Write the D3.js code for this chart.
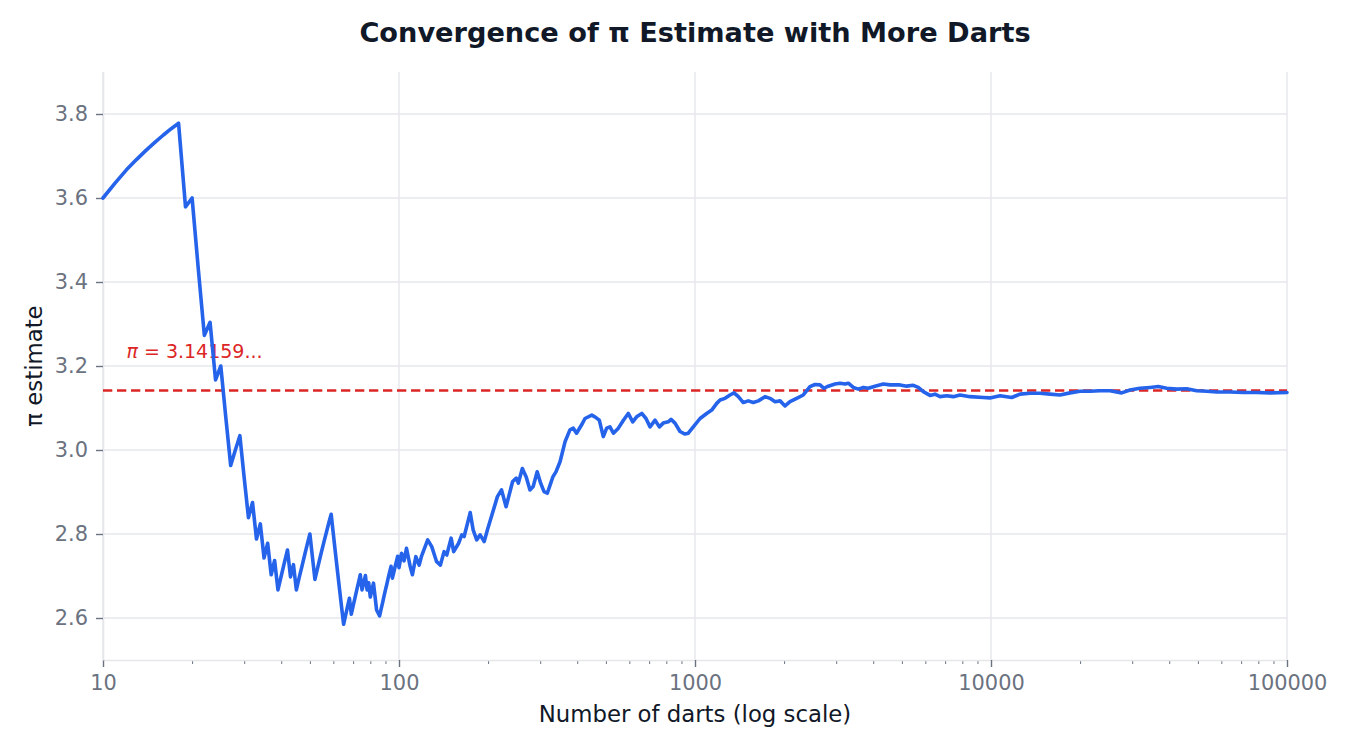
<!DOCTYPE html>
<html>
<head>
<meta charset="utf-8">
<script src="https://cdn.jsdelivr.net/npm/d3@7"></script>
<style>
  body { margin: 0; background: #fff; }
  svg { display: block; font-family: "DejaVu Sans", sans-serif; }
</style>
</head>
<body>
<div id="chart"></div>
<script>
// running estimate of pi after n darts
const darts = [
  10, 11, 12, 13, 14, 15, 16, 17, 18, 19, 20, 21, 22, 23, 24, 25, 26, 27, 28, 29,
  30, 31, 32, 33, 34, 35, 36, 37, 38, 39, 40, 41, 42, 43, 44, 45, 46, 47, 48, 49,
  50, 51, 52, 53, 54, 55, 56, 57, 58, 59, 60, 61, 62, 63, 64, 65, 66, 67, 68, 69,
  70, 71, 72, 73, 74, 75, 76, 77, 78, 79, 80, 81, 82, 83, 84, 85, 86, 87, 88, 89,
  90, 91, 92, 93, 94, 95, 96, 97, 98, 99, 100, 102, 104, 106, 109, 111, 114, 117, 119, 125,
  129, 134, 138, 142, 145, 150, 153, 159, 163, 166, 174, 178, 183, 188, 194, 199, 206, 215, 222, 230,
  242, 249, 253, 261, 269, 277, 284, 293, 301, 309, 317, 331, 339, 350, 364, 378, 388, 398, 414, 425,
  448, 459, 475, 490, 503, 516, 530, 551, 573, 595, 616, 635, 661, 683, 705, 733, 758, 781, 812, 830,
  856, 890, 925, 949, 987, 1040, 1095, 1139, 1184, 1215, 1263, 1313, 1355, 1401, 1456, 1514, 1574, 1637, 1724, 1792,
  1864, 1938, 2015, 2094, 2206, 2322, 2446, 2543, 2644, 2728, 2820, 2972, 3090, 3212, 3296, 3427, 3563, 3704, 3851, 4056,
  4327, 4560, 4927, 5190, 5463, 5680, 5906, 6222, 6469, 6726, 7086, 7457, 7857, 8495, 9419, 9922, 10725, 11746, 12531, 13546,
  14640, 15825, 17105, 18490, 19984, 21603, 23346, 25235, 27640, 29487, 31874, 34445, 36744, 39223, 42409, 45824, 49535, 53554, 57876, 64183,
  71187, 78978, 87614, 100000
];
const piEstimate = [
  3.600, 3.636, 3.667, 3.692, 3.714, 3.733, 3.750, 3.765, 3.778, 3.579, 3.600, 3.429, 3.273, 3.304, 3.167, 3.200, 3.077, 2.963, 3.000, 3.034,
  2.933, 2.839, 2.875, 2.788, 2.824, 2.743, 2.778, 2.703, 2.737, 2.667, 2.700, 2.732, 2.762, 2.698, 2.727, 2.667, 2.696, 2.723, 2.750, 2.776,
  2.800, 2.745, 2.692, 2.717, 2.741, 2.764, 2.786, 2.807, 2.828, 2.847, 2.800, 2.754, 2.710, 2.667, 2.625, 2.585, 2.606, 2.627, 2.647, 2.609,
  2.629, 2.648, 2.667, 2.685, 2.703, 2.667, 2.684, 2.701, 2.667, 2.684, 2.650, 2.667, 2.683, 2.651, 2.619, 2.612, 2.605, 2.621, 2.636, 2.652,
  2.667, 2.681, 2.696, 2.710, 2.723, 2.695, 2.708, 2.722, 2.735, 2.747, 2.720, 2.754, 2.736, 2.766, 2.724, 2.703, 2.746, 2.726, 2.746, 2.786,
  2.770, 2.734, 2.726, 2.758, 2.750, 2.790, 2.758, 2.778, 2.798, 2.794, 2.851, 2.810, 2.786, 2.798, 2.782, 2.810, 2.845, 2.889, 2.905, 2.865,
  2.925, 2.933, 2.921, 2.956, 2.936, 2.905, 2.913, 2.948, 2.921, 2.901, 2.897, 2.936, 2.948, 2.972, 3.020, 3.048, 3.052, 3.040, 3.060, 3.075,
  3.083, 3.079, 3.071, 3.032, 3.052, 3.055, 3.040, 3.052, 3.071, 3.087, 3.067, 3.079, 3.087, 3.075, 3.055, 3.071, 3.055, 3.064, 3.067, 3.073,
  3.064, 3.044, 3.038, 3.040, 3.055, 3.075, 3.087, 3.095, 3.111, 3.119, 3.123, 3.131, 3.136, 3.127, 3.113, 3.117, 3.113, 3.117, 3.127, 3.123,
  3.115, 3.117, 3.105, 3.115, 3.123, 3.131, 3.151, 3.156, 3.155, 3.147, 3.152, 3.157, 3.159, 3.157, 3.159, 3.149, 3.145, 3.149, 3.147, 3.152,
  3.157, 3.155, 3.155, 3.152, 3.154, 3.149, 3.139, 3.130, 3.133, 3.127, 3.129, 3.127, 3.131, 3.127, 3.125, 3.124, 3.129, 3.125, 3.133, 3.135,
  3.135, 3.133, 3.131, 3.136, 3.140, 3.140, 3.141, 3.141, 3.136, 3.143, 3.147, 3.149, 3.151, 3.147, 3.145, 3.146, 3.141, 3.140, 3.138, 3.138,
  3.137, 3.137, 3.136, 3.137
];

const xTicks = [10, 100, 1000, 10000, 100000];
const yTicks = [2.6, 2.8, 3.0, 3.2, 3.4, 3.6, 3.8];
const piValue = Math.PI;
const piLabelAt = [12, 3.22];

const width = 1350;
const height = 750;
const margin = { top: 72, right: 63, bottom: 90, left: 103 };

const svg = d3.select("#chart").append("svg")
  .attr("width", width)
  .attr("height", height)
  .style("background", "white");

const x = d3.scaleLog()
  .domain([10, 100000])
  .range([margin.left, width - margin.right]);
const y = d3.scaleLinear()
  .domain([2.5, 3.9])
  .range([height - margin.bottom, margin.top]);

const gridColor = "#e5e7eb";
const tickColor = "#6b7280";

// grid
svg.append("g")
  .selectAll("line")
  .data(yTicks)
  .join("line")
  .attr("x1", margin.left)
  .attr("x2", width - margin.right)
  .attr("y1", d => y(d))
  .attr("y2", d => y(d))
  .attr("stroke", gridColor)
  .attr("stroke-width", 1.4);

svg.append("g")
  .selectAll("line")
  .data(xTicks)
  .join("line")
  .attr("x1", d => x(d))
  .attr("x2", d => x(d))
  .attr("y1", margin.top)
  .attr("y2", height - margin.bottom)
  .attr("stroke", gridColor)
  .attr("stroke-width", 1.4);

// axes
const minorTicks = x.ticks().filter(d => !xTicks.includes(d));

svg.append("g")
  .attr("transform", `translate(0,${height - margin.bottom})`)
  .call(d3.axisBottom(x).tickValues(minorTicks).tickFormat("").tickSize(4).tickSizeOuter(0))
  .call(g => g.select(".domain").remove())
  .call(g => g.selectAll(".tick line").attr("stroke", tickColor).attr("stroke-width", 1));

svg.append("g")
  .attr("transform", `translate(0,${height - margin.bottom})`)
  .call(d3.axisBottom(x).tickValues(xTicks).tickFormat(d3.format("d")).tickSize(7).tickSizeOuter(0).tickPadding(8))
  .call(g => g.select(".domain").attr("stroke", gridColor).attr("stroke-width", 1.6))
  .call(g => g.selectAll(".tick line").attr("stroke", tickColor).attr("stroke-width", 1.4))
  .call(g => g.selectAll(".tick text")
    .attr("fill", tickColor)
    .attr("font-size", "20.9px")
    .attr("font-family", "DejaVu Sans"));

svg.append("g")
  .attr("transform", `translate(${margin.left},0)`)
  .call(d3.axisLeft(y).tickValues(yTicks).tickFormat(d3.format(".1f")).tickSize(7).tickSizeOuter(0).tickPadding(8))
  .call(g => g.select(".domain").attr("stroke", gridColor).attr("stroke-width", 1.6))
  .call(g => g.selectAll(".tick line").attr("stroke", tickColor).attr("stroke-width", 1.4))
  .call(g => g.selectAll(".tick text")
    .attr("fill", tickColor)
    .attr("font-size", "20.9px")
    .attr("font-family", "DejaVu Sans"));

// true value of pi
svg.append("line")
  .attr("x1", margin.left)
  .attr("x2", width - margin.right)
  .attr("y1", y(piValue))
  .attr("y2", y(piValue))
  .attr("stroke", "#dc2626")
  .attr("stroke-width", 2.5)
  .attr("stroke-dasharray", "9.3,4.7");

const piLabel = svg.append("text")
  .attr("x", x(piLabelAt[0]))
  .attr("y", y(piLabelAt[1]))
  .attr("fill", "#dc2626")
  .attr("font-size", "19px");
piLabel.append("tspan").attr("font-style", "italic").text("π");
piLabel.append("tspan").text(" = 3.14159...");

// estimate line
const points = darts.map((n, i) => [n, piEstimate[i]]);
svg.append("path")
  .datum(points)
  .attr("fill", "none")
  .attr("stroke", "#2563eb")
  .attr("stroke-width", 3.6)
  .attr("stroke-linejoin", "round")
  .attr("stroke-linecap", "round")
  .attr("d", d3.line().x(d => x(d[0])).y(d => y(d[1])));

// titles
svg.append("text")
  .attr("x", (margin.left + width - margin.right) / 2)
  .attr("y", 42)
  .attr("text-anchor", "middle")
  .attr("font-size", "27.2px")
  .attr("font-weight", "bold")
  .attr("fill", "#111827")
  .text("Convergence of π Estimate with More Darts");

svg.append("text")
  .attr("x", (margin.left + width - margin.right) / 2)
  .attr("y", 722)
  .attr("text-anchor", "middle")
  .attr("font-size", "22.8px")
  .attr("fill", "#111827")
  .text("Number of darts (log scale)");

svg.append("text")
  .attr("transform", `translate(42,${(margin.top + height - margin.bottom) / 2}) rotate(-90)`)
  .attr("text-anchor", "middle")
  .attr("font-size", "22.8px")
  .attr("fill", "#111827")
  .text("π estimate");
</script>
</body>
</html>
